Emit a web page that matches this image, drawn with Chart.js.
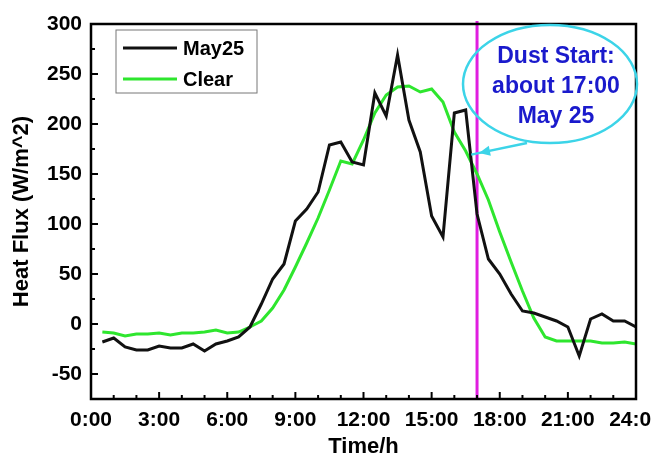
<!DOCTYPE html>
<html>
<head>
<meta charset="utf-8">
<script src="https://cdn.jsdelivr.net/npm/chart.js@4.4.1/dist/chart.umd.min.js"></script>
<style>
  body { margin: 0; background: #fff; }
  #wrap { width: 651px; height: 461px; }
</style>
</head>
<body>
<div id="wrap"><canvas id="fluxChart" width="651" height="461"></canvas></div>
<script>
// half-hourly samples, hours of the day
const hours = [0.5, 1, 1.5, 2, 2.5, 3, 3.5, 4, 4.5, 5, 5.5, 6,
               6.5, 7, 7.5, 8, 8.5, 9, 9.5, 10, 10.5, 11, 11.5, 12,
               12.5, 13, 13.5, 14, 14.5, 15, 15.5, 16, 16.5, 17, 17.5, 18,
               18.5, 19, 19.5, 20, 20.5, 21, 21.5, 22, 22.5, 23, 23.5, 24];
const may25 = [-18, -14, -23, -26, -26, -22, -24, -24, -20, -27, -20, -17,
               -13, -3, 20, 45, 60, 103, 115, 132, 179, 182, 162, 159,
               231, 208, 269, 204, 172, 108, 87, 211, 214, 110, 65, 50,
               30, 13, 11, 7, 3, -3, -32, 5, 10, 3, 3, -3];
const clear = [-8, -9, -12, -10, -10, -9, -11, -9, -9, -8, -6, -9,
               -8, -3, 3, 16, 34, 57, 81, 106, 134, 163, 160, 184,
               211, 229, 237, 238, 232, 235, 222, 192, 173, 150, 124, 92,
               62, 33, 6, -13, -17, -17, -17, -17, -19, -19, -18, -20];

const timeTicks = [0, 3, 6, 9, 12, 15, 18, 21, 24];
const timeLabels = ['0:00', '3:00', '6:00', '9:00', '12:00', '15:00', '18:00', '21:00', '24:00'];
const fluxLabels = [-50, 0, 50, 100, 150, 200, 250, 300];

const dustStart = 17;
const dustArrowFlux = 171;
const noteLines = ['Dust Start:', 'about 17:00', 'May 25'];

const FAMILY = '"Liberation Sans", Arial, sans-serif';

function toPoints(vals) {
    return vals.map((v, i) => ({ x: hours[i], y: v }));
}

const decor = {
    id: 'decor',
    beforeDatasetsDraw(chart) {
        const { ctx, chartArea: a, scales: { x } } = chart;
        const px = x.getPixelForValue(dustStart);
        ctx.save();
        ctx.strokeStyle = '#e01ee0';
        ctx.lineWidth = 3;
        ctx.beginPath();
        ctx.moveTo(px, a.top - 3);
        ctx.lineTo(px, a.bottom);
        ctx.stroke();
        ctx.restore();
    },
    afterDatasetsDraw(chart) {
        const { ctx, chartArea: a, scales: { x, y } } = chart;
        ctx.save();

        // ticks pointing inward
        ctx.strokeStyle = '#000';
        ctx.lineWidth = 2;
        for (let h = 1; h < 24; h++) {
            const px = x.getPixelForValue(h);
            const len = h % 3 === 0 ? 7 : 4;
            ctx.beginPath();
            ctx.moveTo(px, a.bottom);
            ctx.lineTo(px, a.bottom - len);
            ctx.stroke();
        }
        for (let v = -50; v < 300; v += 25) {
            const py = y.getPixelForValue(v);
            const len = v % 50 === 0 ? 7 : 4;
            ctx.beginPath();
            ctx.moveTo(a.left, py);
            ctx.lineTo(a.left + len, py);
            ctx.stroke();
        }

        // frame
        ctx.lineWidth = 2.5;
        ctx.strokeRect(a.left, a.top, a.right - a.left, a.bottom - a.top);

        // legend
        const lx = a.left + 25, ly = a.top + 6;
        ctx.strokeStyle = '#777';
        ctx.lineWidth = 1;
        ctx.strokeRect(lx, ly, 141, 63);
        ctx.font = 'bold 20px ' + FAMILY;
        ctx.textBaseline = 'middle';
        ctx.textAlign = 'left';
        chart.data.datasets.forEach((ds, i) => {
            const yy = ly + 18 + i * 31;
            ctx.strokeStyle = ds.borderColor;
            ctx.lineWidth = 3;
            ctx.beginPath();
            ctx.moveTo(lx + 7, yy);
            ctx.lineTo(lx + 61, yy);
            ctx.stroke();
            ctx.fillStyle = '#000';
            ctx.fillText(ds.label, lx + 67, yy + 1);
        });

        // callout
        const cx = a.right - 86, cy = a.top + 60;
        ctx.strokeStyle = '#3cd4e8';
        ctx.lineWidth = 2.5;
        ctx.beginPath();
        ctx.ellipse(cx, cy, 87, 59, 0, 0, Math.PI * 2);
        ctx.stroke();

        const tipX = x.getPixelForValue(dustStart) + 2;
        const tipY = y.getPixelForValue(dustArrowFlux);
        const sx = cx - 23, sy = cy + 59;
        const ang = Math.atan2(tipY - sy, tipX - sx);
        ctx.beginPath();
        ctx.moveTo(sx, sy);
        ctx.lineTo(tipX + 8 * Math.cos(ang), tipY + 8 * Math.sin(ang));
        ctx.stroke();
        ctx.fillStyle = '#3cd4e8';
        ctx.beginPath();
        ctx.moveTo(tipX, tipY);
        ctx.lineTo(tipX - 11 * Math.cos(ang) + 5 * Math.sin(ang), tipY - 11 * Math.sin(ang) - 5 * Math.cos(ang));
        ctx.lineTo(tipX - 11 * Math.cos(ang) - 5 * Math.sin(ang), tipY - 11 * Math.sin(ang) + 5 * Math.cos(ang));
        ctx.closePath();
        ctx.fill();

        ctx.fillStyle = '#1a1acc';
        ctx.font = 'bold 23px ' + FAMILY;
        ctx.textAlign = 'center';
        noteLines.forEach((t, i) => {
            ctx.fillText(t, cx + 6, cy - 27 + i * 30);
        });

        ctx.restore();
    }
};

new Chart(document.getElementById('fluxChart'), {
    type: 'line',
    data: {
        datasets: [{
            label: 'May25',
            data: toPoints(may25),
            borderColor: '#111',
            borderWidth: 3,
            pointRadius: 0,
            tension: 0
        }, {
            label: 'Clear',
            data: toPoints(clear),
            borderColor: '#2ee62e',
            borderWidth: 3,
            pointRadius: 0,
            tension: 0
        }]
    },
    options: {
        responsive: false,
        animation: false,
        layout: { padding: { left: 5, right: 15, top: 24, bottom: 0 } },
        plugins: { legend: { display: false }, tooltip: { enabled: false } },
        scales: {
            x: {
                type: 'linear',
                min: 0,
                max: 24,
                grid: { display: false, drawTicks: false },
                border: { display: false },
                ticks: {
                    stepSize: 1,
                    autoSkip: false,
                    maxRotation: 0,
                    padding: 9,
                    color: '#000',
                    font: { family: FAMILY, size: 21, weight: 'bold' },
                    callback: v => {
                        const i = timeTicks.indexOf(v);
                        return i >= 0 ? timeLabels[i] : '';
                    }
                },
                title: {
                    display: true,
                    text: 'Time/h',
                    color: '#000',
                    padding: { top: 0, bottom: 1 },
                    font: { family: FAMILY, size: 22, weight: 'bold' }
                },
                afterFit: s => { s.height = 62; s.paddingLeft = 0; s.paddingRight = 0; }
            },
            y: {
                min: -75,
                max: 300,
                grid: { display: false, drawTicks: false },
                border: { display: false },
                ticks: {
                    stepSize: 25,
                    autoSkip: false,
                    padding: 9,
                    color: '#000',
                    font: { family: FAMILY, size: 21, weight: 'bold' },
                    callback: v => fluxLabels.includes(v) ? String(v) : ''
                },
                title: {
                    display: true,
                    text: 'Heat Flux (W/m^2)',
                    color: '#000',
                    font: { family: FAMILY, size: 22, weight: 'bold' }
                },
                afterFit: s => { s.width = 86; }
            }
        }
    },
    plugins: [decor]
});
</script>
</body>
</html>
